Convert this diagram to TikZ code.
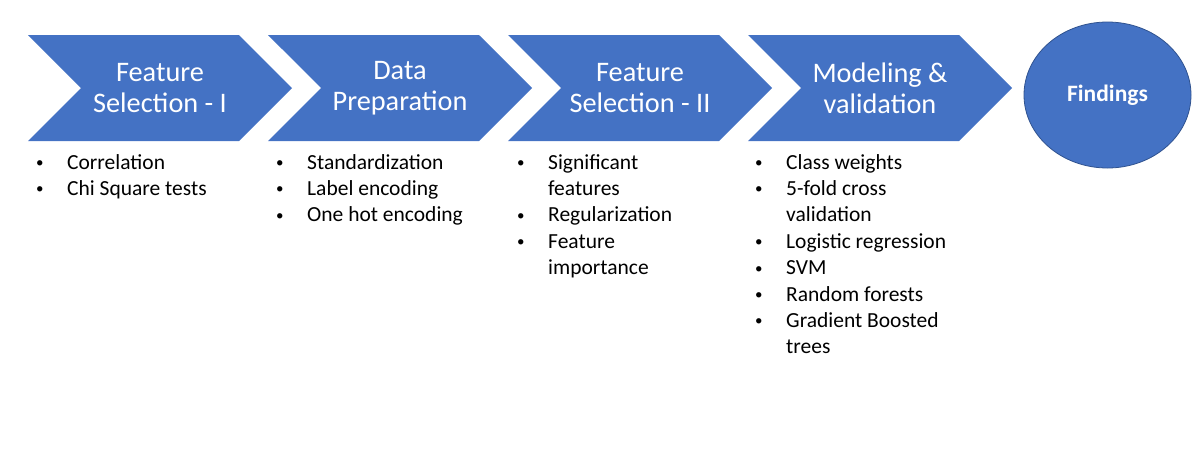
\documentclass[tikz,border=0pt]{standalone}
\usepackage{fontspec}
\setmainfont{Carlito}
\usetikzlibrary{shapes.symbols,shapes.geometric,positioning}
\definecolor{stageblue}{RGB}{68,114,196}
\definecolor{stageedge}{RGB}{47,82,143}
\newcommand{\blt}{\makebox[31pt][l]{\raisebox{1.5pt}{\fontsize{15}{15}\selectfont\textbullet}}}
\newcommand{\bcont}{\hspace*{31pt}}

\begin{document}
\begin{tikzpicture}[x=1pt,y=-1pt,
  stage/.style={signal, signal from=west, signal to=east, fill=stageblue,
    minimum width=264pt, minimum height=106pt, inner sep=0pt, text=white,
    align=center, font=\fontsize{28.3}{31}\selectfont},
  steps/.style={anchor=base west, align=left, inner sep=0pt, text=black,
    font=\fontsize{21.5}{26.4}\selectfont}]
\useasboundingbox (0,0) rectangle (1204,456);

% Process stages
\node[stage] (chev1) at (160,88) {Feature\\Selection - I};
\node[stage] (chev2) at (400,88) {Data\\Preparation};
\node[stage] (chev3) at (640,88) {Feature\\Selection - II};
\node[stage] (chev4) at (880,88) {Modeling \&\\validation};
\node[ellipse, fill=stageblue, draw=stageedge, line width=0.8pt, minimum width=167pt,
  minimum height=146pt, inner sep=0pt, text=white,
  font=\fontsize{23.5}{28}\selectfont\bfseries] (find) at (1107.5,95) {Findings};

% Tasks under each stage (anchored at the last line)
\node[steps] (list1) at (36,195.4) {\blt Correlation\\\blt Chi Square tests};
\node[steps] (list2) at (276,221.8) {\blt Standardization\\\blt Label encoding\\\blt One hot encoding};
\node[steps] (list3) at (517,274.6) {\blt Significant\\\bcont features\\\blt Regularization\\\blt Feature\\\bcont importance};
\node[steps] (list4) at (755,353.8) {\blt Class weights\\\blt 5-fold cross\\\bcont validation\\\blt Logistic regression\\\blt SVM\\\blt Random forests\\\blt Gradient Boosted\\\bcont trees};
\end{tikzpicture}
\end{document}
